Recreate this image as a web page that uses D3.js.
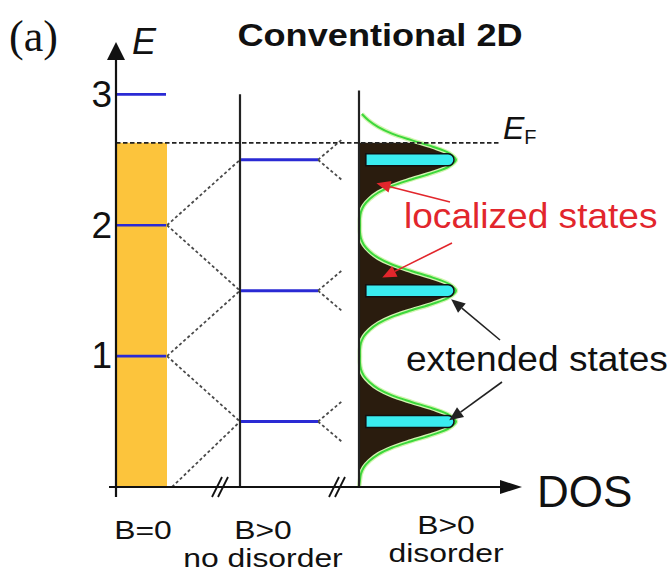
<!DOCTYPE html>
<html>
<head>
<meta charset="utf-8">
<script src="https://cdn.jsdelivr.net/npm/d3@7"></script>
<style>
  html, body { margin: 0; padding: 0; background: #fff; }
  svg { display: block; font-family: "Liberation Sans", Arial, Helvetica, sans-serif; }
</style>
</head>
<body>
<svg id="chart" width="670" height="573"></svg>
<script>
// ---- data (energies in units of the cyclotron energy) ----
const tickValues = [1, 2, 3];
const zeroFieldLevels = [1, 2, 3];          // blue marks on the B=0 column
const landauLevels = [0.5, 1.5, 2.5];       // Landau levels for B>0
const fermiEnergy = 2.63;
const yellowTop = fermiEnergy;              // filled states at B=0
// each B=0 level splits toward the neighbouring Landau levels
const levelLinks = [[2, 2.5], [2, 1.5], [1, 1.5], [1, 0.5], [0, 0.5]];
// disorder-broadened density of states, sampled along E
const dosEnergy = [0.00, 0.05, 0.10, 0.15, 0.20, 0.25, 0.30, 0.35, 0.40, 0.45,
                   0.50, 0.55, 0.60, 0.65, 0.70, 0.75, 0.80, 0.85, 0.90, 0.95,
                   1.00, 1.05, 1.10, 1.15, 1.20, 1.25, 1.30, 1.35, 1.40, 1.45,
                   1.50, 1.55, 1.60, 1.65, 1.70, 1.75, 1.80, 1.85, 1.90, 1.95,
                   2.00, 2.05, 2.10, 2.15, 2.20, 2.25, 2.30, 2.35, 2.40, 2.45,
                   2.50, 2.55, 2.60, 2.65, 2.70, 2.75, 2.80, 2.85];
const dosValue  = [0.00, 0.01, 0.02, 0.05, 0.11, 0.20, 0.34, 0.54, 0.76, 0.93,
                   1.00, 0.93, 0.76, 0.54, 0.34, 0.20, 0.11, 0.05, 0.02, 0.01,
                   0.01, 0.01, 0.02, 0.05, 0.11, 0.20, 0.34, 0.54, 0.76, 0.93,
                   1.00, 0.93, 0.76, 0.54, 0.34, 0.20, 0.11, 0.05, 0.02, 0.01,
                   0.01, 0.01, 0.02, 0.05, 0.11, 0.20, 0.34, 0.54, 0.76, 0.93,
                   1.00, 0.93, 0.76, 0.54, 0.34, 0.20, 0.10, 0.03];
// extended-state bands drawn inside each peak (DOS range)
const bandStart = 0.07, bandEnd = 0.98;
// annotation targets as [E, DOS]
const localizedTargets = [[2.32, 0.18], [1.60, 0.24]];
const extendedTargets  = [[1.435, 0.95], [0.51, 0.93]];
const columnLabels = [
  { lines: ["B=0"] },
  { lines: ["B>0", "no disorder"] },
  { lines: ["B>0", "disorder"] }
];

// ---- layout ----
const svg = d3.select("#chart");
const axisX = 116, axisY = 487;
const col0Right = 167;          // right edge of B=0 column
const col1X = 240, col1Right = 318;
const col2X = 359;
const xEnd = 522;

const y = d3.scaleLinear().domain([0, 3.4]).range([axisY, 42]);
const xDos = d3.scaleLinear().domain([0, 1]).range([col2X, col2X + 97]);

const BLUE = "#2a2ad4", YELLOW = "#fcc43c", CYAN = "#3aecf0",
      DARK = "#2a1c0e", GREEN = "#3cd83c", RED = "#e2262c", GREY = "#4a4a4a";

function addText(sel, str, x, yy, size, opt = {}) {
  return sel.append("text")
    .attr("transform", `translate(${x},${yy}) scale(${opt.sx || 1},1)`)
    .attr("font-size", size)
    .attr("text-anchor", opt.anchor || "start")
    .attr("font-weight", opt.bold ? "bold" : null)
    .attr("font-style", opt.italic ? "italic" : null)
    .attr("font-family", opt.family || null)
    .attr("fill", opt.fill || "#111")
    .text(str);
}

// ---- B=0 column: filled band up to E_F ----
svg.append("rect")
  .attr("x", axisX).attr("width", col0Right - axisX)
  .attr("y", y(yellowTop)).attr("height", y(0) - y(yellowTop))
  .attr("fill", YELLOW);

svg.selectAll("line.b0").data(zeroFieldLevels).join("line")
  .attr("x1", axisX).attr("x2", col0Right - 1)
  .attr("y1", d => y(d)).attr("y2", d => y(d))
  .attr("stroke", BLUE).attr("stroke-width", 2.6);

// ---- splitting links between B=0 and B>0 ----
svg.selectAll("line.link").data(levelLinks).join("line")
  .attr("x1", d => d[0] === 0 ? col0Right + 5 : col0Right)
  .attr("y1", d => y(d[0]))
  .attr("x2", col1X).attr("y2", d => y(d[1]))
  .attr("stroke", GREY).attr("stroke-width", 1.8)
  .attr("stroke-dasharray", "3,2.5");

// forks to the right of each Landau level
const forkDx = 24, forkDE = 0.155;
landauLevels.forEach(E => {
  [1, -1].forEach(s => {
    svg.append("line")
      .attr("x1", col1Right).attr("y1", y(E))
      .attr("x2", col1Right + forkDx).attr("y2", y(E + s * forkDE))
      .attr("stroke", GREY).attr("stroke-width", 1.8)
      .attr("stroke-dasharray", "3,2.5");
  });
});

// ---- B>0, no disorder: vertical axis and Landau levels ----
svg.append("line")
  .attr("x1", col1X).attr("x2", col1X)
  .attr("y1", y(3.0)).attr("y2", axisY)
  .attr("stroke", "#222").attr("stroke-width", 2.2);

svg.selectAll("line.ll").data(landauLevels).join("line")
  .attr("x1", col1X + 1).attr("x2", col1Right)
  .attr("y1", d => y(d)).attr("y2", d => y(d))
  .attr("stroke", BLUE).attr("stroke-width", 3);

// ---- B>0 with disorder: broadened DOS ----
const dos = dosEnergy.map((E, i) => ({ E, D: dosValue[i] }));

svg.append("defs").append("clipPath").attr("id", "belowEF")
  .append("rect").attr("x", 0).attr("width", 670)
  .attr("y", y(fermiEnergy)).attr("height", axisY - y(fermiEnergy) + 2);

const area = d3.area()
  .y(d => y(d.E)).x0(xDos(0)).x1(d => xDos(d.D))
  .curve(d3.curveCatmullRom);
const line = d3.line()
  .y(d => y(d.E)).x(d => xDos(d.D))
  .curve(d3.curveCatmullRom);

svg.append("path").datum(dos)
  .attr("d", area).attr("fill", DARK)
  .attr("clip-path", "url(#belowEF)");
svg.append("path").datum(dos)
  .attr("d", line).attr("fill", "none")
  .attr("stroke", "#d2f5b0").attr("stroke-width", 4.5);
svg.append("path").datum(dos)
  .attr("d", line).attr("fill", "none")
  .attr("stroke", GREEN).attr("stroke-width", 2);

svg.append("line")
  .attr("x1", col2X).attr("x2", col2X)
  .attr("y1", y(3.03)).attr("y2", axisY)
  .attr("stroke", "#222").attr("stroke-width", 2.2);

// extended-state bands (flat left end, rounded right end)
const bh = 12;
svg.selectAll("path.band").data(landauLevels).join("path")
  .attr("d", E => {
    const x0 = xDos(bandStart), x1 = xDos(bandEnd), yc = y(E), r = bh / 2;
    return `M${x0},${yc - r}H${x1 - r}A${r},${r} 0 0 1 ${x1 - r},${yc + r}H${x0}Z`;
  })
  .attr("fill", CYAN).attr("stroke", "#111").attr("stroke-width", 1.6);

// ---- Fermi level ----
svg.append("line")
  .attr("x1", axisX).attr("x2", 500)
  .attr("y1", y(fermiEnergy)).attr("y2", y(fermiEnergy))
  .attr("stroke", "#222").attr("stroke-width", 1.8)
  .attr("stroke-dasharray", "4.5,2.5");
const ef = svg.append("text")
  .attr("x", 503).attr("y", y(fermiEnergy) - 4)
  .attr("font-size", 32).attr("fill", "#111");
ef.append("tspan").attr("font-style", "italic").text("E");
ef.append("tspan").attr("font-size", 20).attr("dy", 5).text("F");

// ---- axes ----
svg.append("line")
  .attr("x1", axisX).attr("x2", axisX)
  .attr("y1", axisY + 10).attr("y2", 58)
  .attr("stroke", "#111").attr("stroke-width", 2.2);
svg.append("path")
  .attr("d", `M${axisX - 9},${60}L${axisX},${42}L${axisX + 9},${60}Z`)
  .attr("fill", "#111");

svg.append("line")
  .attr("x1", axisX - 7).attr("x2", xEnd - 18)
  .attr("y1", axisY).attr("y2", axisY)
  .attr("stroke", "#111").attr("stroke-width", 2.2);
svg.append("path")
  .attr("d", `M${xEnd - 22},${axisY - 7}L${xEnd},${axisY}L${xEnd - 22},${axisY + 7}Z`)
  .attr("fill", "#111");

// axis break marks on the DOS axis
[220, 337].forEach(cx => {
  [-3, 3].forEach(o => {
    svg.append("line")
      .attr("x1", cx + o - 5).attr("y1", axisY + 10)
      .attr("x2", cx + o + 5).attr("y2", axisY - 10)
      .attr("stroke", "#111").attr("stroke-width", 1.8);
  });
});

// energy tick labels
const yAxis = d3.axisLeft(y).tickValues(tickValues).tickSize(0).tickPadding(4)
  .tickFormat(d3.format("d"));
const gy = svg.append("g").attr("transform", `translate(${axisX},0)`).call(yAxis);
gy.select(".domain").remove();
gy.selectAll("text")
  .attr("font-size", 37)
  .attr("font-family", "'Liberation Sans', Arial, sans-serif")
  .attr("fill", "#111");

// ---- text ----
addText(svg, "(a)", 9, 51, 44, { family: "'Liberation Serif', 'Times New Roman', serif" });
addText(svg, "E", 132, 54, 36, { italic: true });
addText(svg, "Conventional 2D", 380, 46, 32, { bold: true, anchor: "middle", sx: 1.13 });
addText(svg, "DOS", 537, 507, 44);

addText(svg, "localized states", 404, 228, 35, { fill: RED, sx: 1.06 });
addText(svg, "extended states", 406, 371, 35, { sx: 1.06 });

// column labels under the DOS axis
const colCenters = [143, 263, 446];
const colBase = [538.5, 538.5, 533.5];
const colLine = 28.6;
columnLabels.forEach((c, i) => {
  c.lines.forEach((s, j) => {
    addText(svg, s, colCenters[i], colBase[i] + j * colLine, 25.5, { anchor: "middle", sx: 1.25 });
  });
});

// ---- annotation arrows ----
function arrow(x1, y1, x2, y2, color, w) {
  const ang = Math.atan2(y2 - y1, x2 - x1);
  const L = 14, H = 6;
  const bx = x2 - L * Math.cos(ang), by = y2 - L * Math.sin(ang);
  svg.append("line").attr("x1", x1).attr("y1", y1).attr("x2", bx).attr("y2", by)
    .attr("stroke", color).attr("stroke-width", w);
  const px = -Math.sin(ang) * H, py = Math.cos(ang) * H;
  svg.append("path")
    .attr("d", `M${x2},${y2}L${bx + px},${by + py}L${bx - px},${by - py}Z`)
    .attr("fill", color);
}
const localizedStarts = [[450, 202], [452, 243]];
localizedTargets.forEach((t, i) =>
  arrow(localizedStarts[i][0], localizedStarts[i][1], xDos(t[1]), y(t[0]), RED, 1.6));
const extendedStarts = [[500, 340], [502, 382]];
extendedTargets.forEach((t, i) =>
  arrow(extendedStarts[i][0], extendedStarts[i][1], xDos(t[1]), y(t[0]), "#222", 1.6));
</script>
</body>
</html>
